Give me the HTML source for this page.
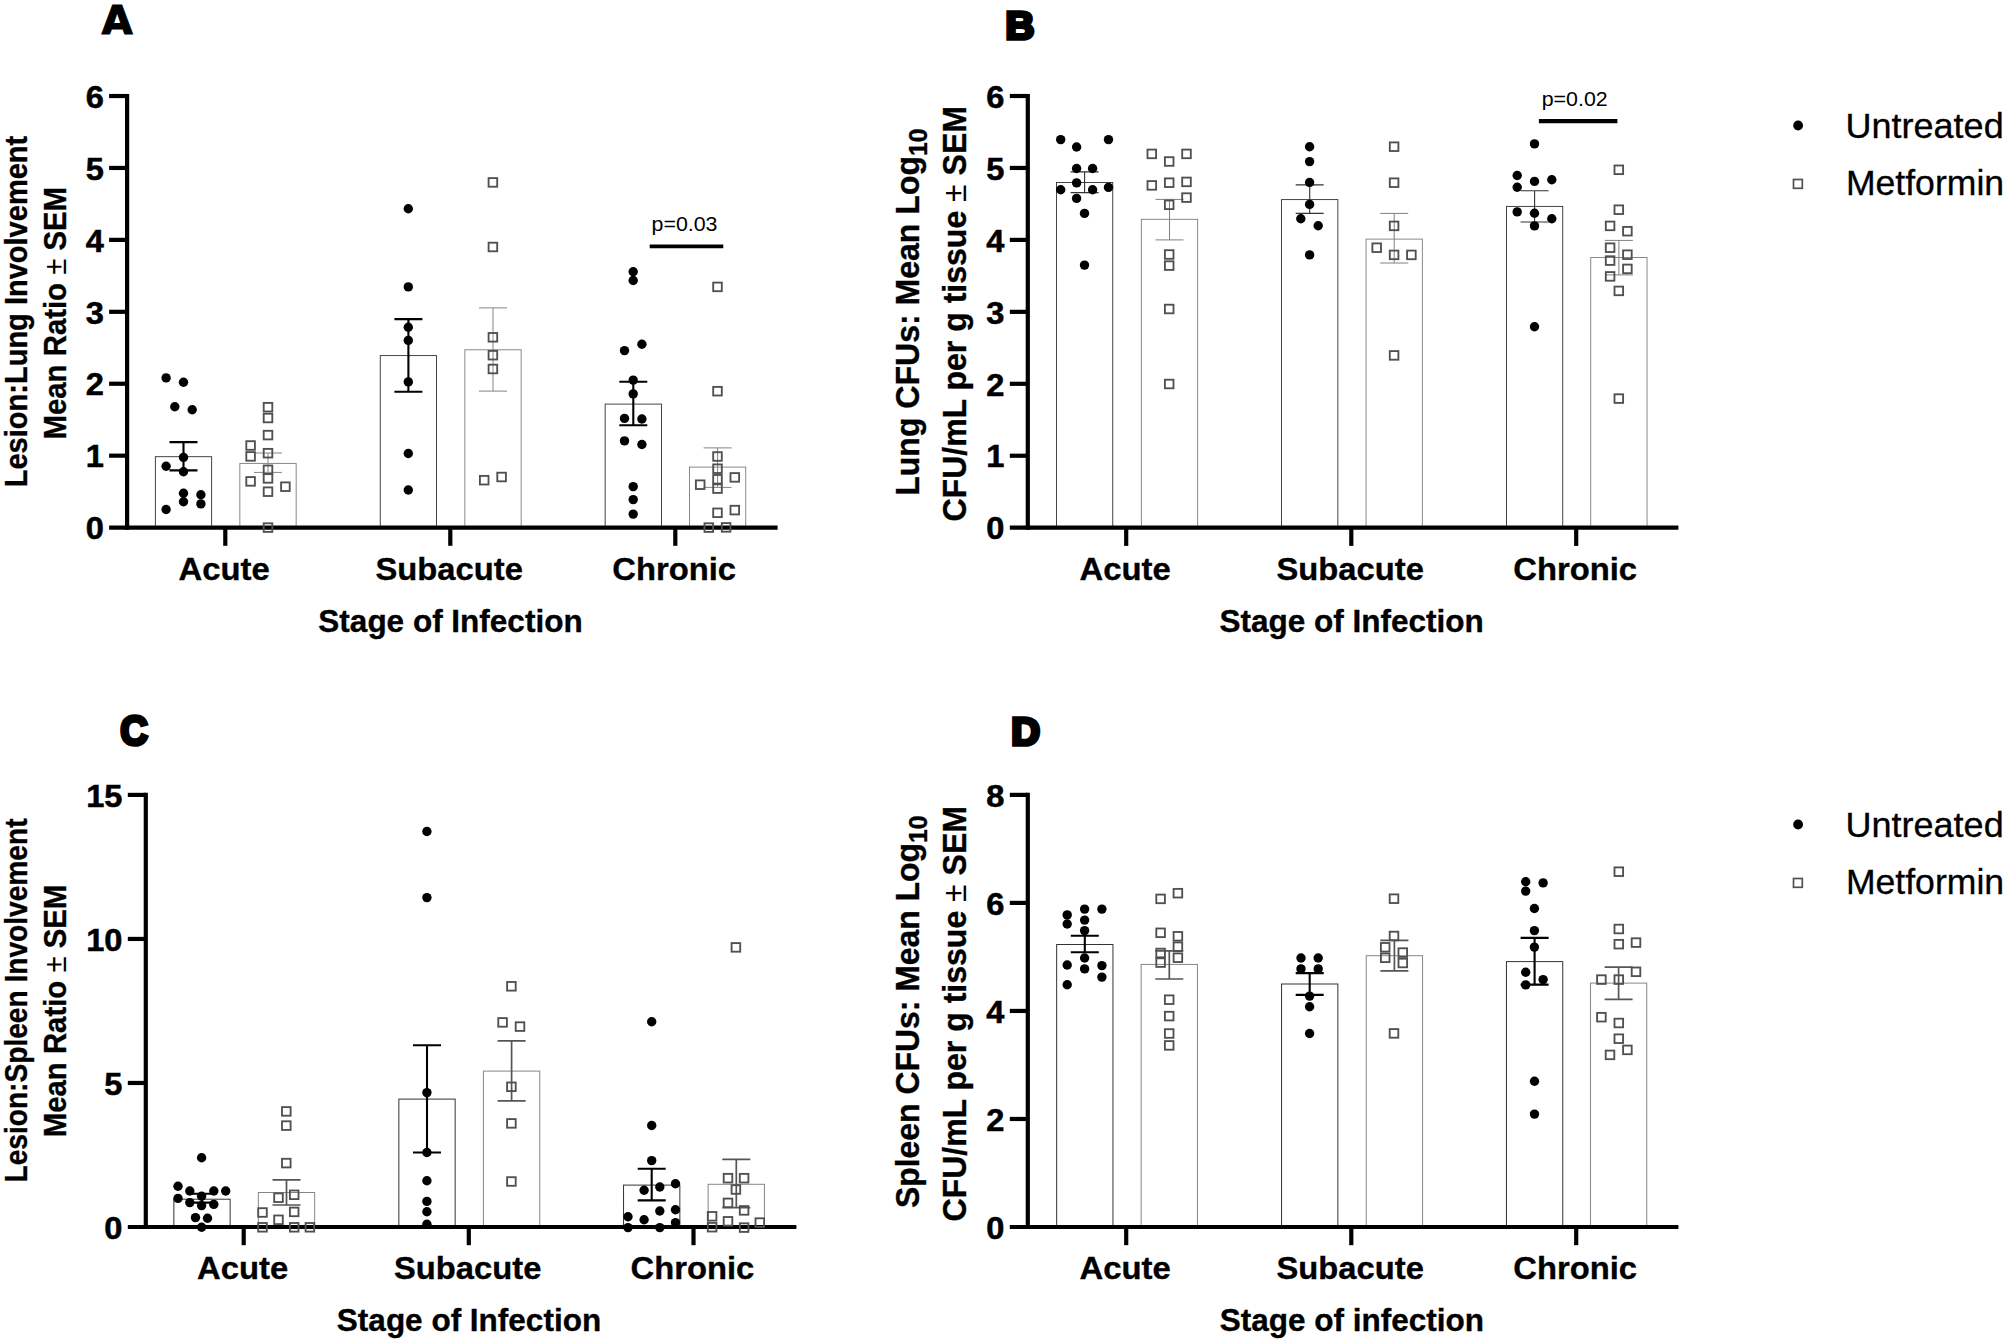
<!DOCTYPE html>
<html lang="en"><head><meta charset="utf-8"><title>Metformin figure</title>
<style>html,body{margin:0;padding:0;background:#fff}svg{display:block}text{font-family:"Liberation Sans",Arial,sans-serif;fill:#000}text[font-weight=bold]{stroke:#000;stroke-width:.35px}text.tk{stroke-width:.55px}text.lg{stroke:#000;stroke-width:.3px}.pl{font-family:"Liberation Sans",Arial,sans-serif;font-weight:bold;stroke:#000;stroke-width:3.65px;stroke-linejoin:miter}.pa{font-family:"DejaVu Sans","Liberation Sans",sans-serif;font-weight:bold;stroke:#000;stroke-width:1.2px;stroke-linejoin:miter}</style>
</head><body>
<svg width="2007" height="1344" viewBox="0 0 2007 1344">
<rect width="2007" height="1344" fill="#fff"/>
<g>
<rect x="155.35" y="456.7" width="56.3" height="70.9" fill="none" stroke="#303030" stroke-width="0.9"/>
<rect x="239.85" y="463.4" width="56.3" height="64.2" fill="none" stroke="#7c7c7c" stroke-width="0.9"/>
<rect x="380.25" y="355.6" width="56.3" height="172" fill="none" stroke="#303030" stroke-width="0.9"/>
<rect x="464.85" y="349.8" width="56.3" height="177.8" fill="none" stroke="#7c7c7c" stroke-width="0.9"/>
<rect x="605.15" y="404.1" width="56.3" height="123.5" fill="none" stroke="#303030" stroke-width="0.9"/>
<rect x="689.45" y="467.1" width="56.3" height="60.5" fill="none" stroke="#7c7c7c" stroke-width="0.9"/>
<line x1="127.1" y1="93.9" x2="127.1" y2="529.7" stroke="#000" stroke-width="4.2" stroke-linecap="butt"/>
<line x1="109.1" y1="527.6" x2="777.6" y2="527.6" stroke="#000" stroke-width="4.2" stroke-linecap="butt"/>
<line x1="109.1" y1="455.67" x2="127.1" y2="455.67" stroke="#000" stroke-width="4.2" stroke-linecap="butt"/>
<line x1="109.1" y1="383.74" x2="127.1" y2="383.74" stroke="#000" stroke-width="4.2" stroke-linecap="butt"/>
<line x1="109.1" y1="311.81" x2="127.1" y2="311.81" stroke="#000" stroke-width="4.2" stroke-linecap="butt"/>
<line x1="109.1" y1="239.88" x2="127.1" y2="239.88" stroke="#000" stroke-width="4.2" stroke-linecap="butt"/>
<line x1="109.1" y1="167.95" x2="127.1" y2="167.95" stroke="#000" stroke-width="4.2" stroke-linecap="butt"/>
<line x1="109.1" y1="96.02" x2="127.1" y2="96.02" stroke="#000" stroke-width="4.2" stroke-linecap="butt"/>
<line x1="225.3" y1="527.6" x2="225.3" y2="545.8" stroke="#000" stroke-width="4.2" stroke-linecap="butt"/>
<line x1="450.3" y1="527.6" x2="450.3" y2="545.8" stroke="#000" stroke-width="4.2" stroke-linecap="butt"/>
<line x1="675.3" y1="527.6" x2="675.3" y2="545.8" stroke="#000" stroke-width="4.2" stroke-linecap="butt"/>
<text x="103.8" y="539.3" font-size="31.5" font-weight="bold" text-anchor="end" textLength="18.13" lengthAdjust="spacingAndGlyphs" class="tk">0</text>
<text x="103.8" y="467.37" font-size="31.5" font-weight="bold" text-anchor="end" textLength="18.13" lengthAdjust="spacingAndGlyphs" class="tk">1</text>
<text x="103.8" y="395.44" font-size="31.5" font-weight="bold" text-anchor="end" textLength="18.13" lengthAdjust="spacingAndGlyphs" class="tk">2</text>
<text x="103.8" y="323.51" font-size="31.5" font-weight="bold" text-anchor="end" textLength="18.13" lengthAdjust="spacingAndGlyphs" class="tk">3</text>
<text x="103.8" y="251.58" font-size="31.5" font-weight="bold" text-anchor="end" textLength="18.13" lengthAdjust="spacingAndGlyphs" class="tk">4</text>
<text x="103.8" y="179.65" font-size="31.5" font-weight="bold" text-anchor="end" textLength="18.13" lengthAdjust="spacingAndGlyphs" class="tk">5</text>
<text x="103.8" y="107.72" font-size="31.5" font-weight="bold" text-anchor="end" textLength="18.13" lengthAdjust="spacingAndGlyphs" class="tk">6</text>
<path d="M169.5 442.1H197.5M169.5 470.4H197.5M183.5 442.1V470.4" fill="none" stroke="#000" stroke-width="2.1"/>
<path d="M254 453H282M254 472.4H282M268 453V472.4" fill="none" stroke="#848484" stroke-width="1"/>
<path d="M394.4 319.1H422.4M394.4 391.7H422.4M408.4 319.1V391.7" fill="none" stroke="#000" stroke-width="2.1"/>
<path d="M479 307.9H507M479 391.1H507M493 307.9V391.1" fill="none" stroke="#848484" stroke-width="1"/>
<path d="M619.3 381.7H647.3M619.3 425.2H647.3M633.3 381.7V425.2" fill="none" stroke="#000" stroke-width="2.1"/>
<path d="M703.6 447.9H731.6M703.6 487.4H731.6M717.6 447.9V487.4" fill="none" stroke="#848484" stroke-width="1"/>
<g fill="#000">
<circle cx="166.1" cy="377.9" r="4.7"/>
<circle cx="183.5" cy="382.3" r="4.7"/>
<circle cx="174.8" cy="406.8" r="4.7"/>
<circle cx="192.2" cy="409.8" r="4.7"/>
<circle cx="183.5" cy="457.4" r="4.7"/>
<circle cx="166.1" cy="466.2" r="4.7"/>
<circle cx="183.5" cy="471.8" r="4.7"/>
<circle cx="183.5" cy="493.3" r="4.7"/>
<circle cx="200.9" cy="494.7" r="4.7"/>
<circle cx="183.5" cy="501.7" r="4.7"/>
<circle cx="200.9" cy="503.9" r="4.7"/>
<circle cx="166.1" cy="509.5" r="4.7"/>
<circle cx="408.3" cy="208.8" r="4.7"/>
<circle cx="408.3" cy="286.9" r="4.7"/>
<circle cx="408.3" cy="327.3" r="4.7"/>
<circle cx="408.3" cy="340.4" r="4.7"/>
<circle cx="408.3" cy="381.9" r="4.7"/>
<circle cx="408.3" cy="453.5" r="4.7"/>
<circle cx="408.3" cy="490" r="4.7"/>
<circle cx="633.2" cy="271.8" r="4.7"/>
<circle cx="633.2" cy="280.5" r="4.7"/>
<circle cx="624.5" cy="350.6" r="4.7"/>
<circle cx="641.9" cy="344.2" r="4.7"/>
<circle cx="633.2" cy="380.1" r="4.7"/>
<circle cx="633.2" cy="393.9" r="4.7"/>
<circle cx="624.5" cy="418.4" r="4.7"/>
<circle cx="641.9" cy="419" r="4.7"/>
<circle cx="624.5" cy="440.9" r="4.7"/>
<circle cx="641.9" cy="444.5" r="4.7"/>
<circle cx="633.2" cy="486.6" r="4.7"/>
<circle cx="633.2" cy="499.6" r="4.7"/>
<circle cx="633.2" cy="514.1" r="4.7"/>
</g>
<g fill="none" stroke="#505050" stroke-width="1.85">
<rect x="263.7" y="402.9" width="8.6" height="8.6"/>
<rect x="263.7" y="413.7" width="8.6" height="8.6"/>
<rect x="263.7" y="430.8" width="8.6" height="8.6"/>
<rect x="246.3" y="441.2" width="8.6" height="8.6"/>
<rect x="263.7" y="448.9" width="8.6" height="8.6"/>
<rect x="246.3" y="452.1" width="8.6" height="8.6"/>
<rect x="263.7" y="465.5" width="8.6" height="8.6"/>
<rect x="263.7" y="474.1" width="8.6" height="8.6"/>
<rect x="246.3" y="477.1" width="8.6" height="8.6"/>
<rect x="281.1" y="482.4" width="8.6" height="8.6"/>
<rect x="263.7" y="487.4" width="8.6" height="8.6"/>
<rect x="263.7" y="523.3" width="8.6" height="8.6"/>
<rect x="488.6" y="178.1" width="8.6" height="8.6"/>
<rect x="488.6" y="242.7" width="8.6" height="8.6"/>
<rect x="488.6" y="333" width="8.6" height="8.6"/>
<rect x="488.6" y="350.9" width="8.6" height="8.6"/>
<rect x="488.6" y="364.7" width="8.6" height="8.6"/>
<rect x="479.9" y="475.9" width="8.6" height="8.6"/>
<rect x="497.3" y="472.7" width="8.6" height="8.6"/>
<rect x="713.2" y="282.6" width="8.6" height="8.6"/>
<rect x="713.2" y="386.9" width="8.6" height="8.6"/>
<rect x="713.2" y="452.2" width="8.6" height="8.6"/>
<rect x="713.2" y="464.4" width="8.6" height="8.6"/>
<rect x="713.2" y="475" width="8.6" height="8.6"/>
<rect x="730.5" y="473.1" width="8.6" height="8.6"/>
<rect x="695.9" y="480.4" width="8.6" height="8.6"/>
<rect x="713.2" y="484.3" width="8.6" height="8.6"/>
<rect x="713.2" y="508.5" width="8.6" height="8.6"/>
<rect x="730.5" y="505.8" width="8.6" height="8.6"/>
<rect x="704.5" y="523.3" width="8.6" height="8.6"/>
<rect x="721.8" y="523.1" width="8.6" height="8.6"/>
</g>
</g>
<g>
<rect x="1056.45" y="182.5" width="56.3" height="345.2" fill="none" stroke="#303030" stroke-width="0.9"/>
<rect x="1141.35" y="219.3" width="56.3" height="308.4" fill="none" stroke="#7c7c7c" stroke-width="0.9"/>
<rect x="1281.55" y="199.6" width="56.3" height="328.1" fill="none" stroke="#303030" stroke-width="0.9"/>
<rect x="1366.05" y="239.1" width="56.3" height="288.6" fill="none" stroke="#7c7c7c" stroke-width="0.9"/>
<rect x="1506.45" y="206.4" width="56.3" height="321.3" fill="none" stroke="#303030" stroke-width="0.9"/>
<rect x="1590.75" y="257.5" width="56.3" height="270.2" fill="none" stroke="#7c7c7c" stroke-width="0.9"/>
<line x1="1027.8" y1="93.9" x2="1027.8" y2="529.8" stroke="#000" stroke-width="4.2" stroke-linecap="butt"/>
<line x1="1009.8" y1="527.7" x2="1678.4" y2="527.7" stroke="#000" stroke-width="4.2" stroke-linecap="butt"/>
<line x1="1009.8" y1="455.75" x2="1027.8" y2="455.75" stroke="#000" stroke-width="4.2" stroke-linecap="butt"/>
<line x1="1009.8" y1="383.8" x2="1027.8" y2="383.8" stroke="#000" stroke-width="4.2" stroke-linecap="butt"/>
<line x1="1009.8" y1="311.85" x2="1027.8" y2="311.85" stroke="#000" stroke-width="4.2" stroke-linecap="butt"/>
<line x1="1009.8" y1="239.9" x2="1027.8" y2="239.9" stroke="#000" stroke-width="4.2" stroke-linecap="butt"/>
<line x1="1009.8" y1="167.95" x2="1027.8" y2="167.95" stroke="#000" stroke-width="4.2" stroke-linecap="butt"/>
<line x1="1009.8" y1="96" x2="1027.8" y2="96" stroke="#000" stroke-width="4.2" stroke-linecap="butt"/>
<line x1="1126.2" y1="527.7" x2="1126.2" y2="545.9" stroke="#000" stroke-width="4.2" stroke-linecap="butt"/>
<line x1="1351.3" y1="527.7" x2="1351.3" y2="545.9" stroke="#000" stroke-width="4.2" stroke-linecap="butt"/>
<line x1="1576.2" y1="527.7" x2="1576.2" y2="545.9" stroke="#000" stroke-width="4.2" stroke-linecap="butt"/>
<text x="1004.5" y="539.4" font-size="31.5" font-weight="bold" text-anchor="end" textLength="18.13" lengthAdjust="spacingAndGlyphs" class="tk">0</text>
<text x="1004.5" y="467.45" font-size="31.5" font-weight="bold" text-anchor="end" textLength="18.13" lengthAdjust="spacingAndGlyphs" class="tk">1</text>
<text x="1004.5" y="395.5" font-size="31.5" font-weight="bold" text-anchor="end" textLength="18.13" lengthAdjust="spacingAndGlyphs" class="tk">2</text>
<text x="1004.5" y="323.55" font-size="31.5" font-weight="bold" text-anchor="end" textLength="18.13" lengthAdjust="spacingAndGlyphs" class="tk">3</text>
<text x="1004.5" y="251.6" font-size="31.5" font-weight="bold" text-anchor="end" textLength="18.13" lengthAdjust="spacingAndGlyphs" class="tk">4</text>
<text x="1004.5" y="179.65" font-size="31.5" font-weight="bold" text-anchor="end" textLength="18.13" lengthAdjust="spacingAndGlyphs" class="tk">5</text>
<text x="1004.5" y="107.7" font-size="31.5" font-weight="bold" text-anchor="end" textLength="18.13" lengthAdjust="spacingAndGlyphs" class="tk">6</text>
<path d="M1070.6 171.9H1098.6M1070.6 192.6H1098.6M1084.6 171.9V192.6" fill="none" stroke="#333" stroke-width="1.1"/>
<path d="M1155.5 199.4H1183.5M1155.5 239.9H1183.5M1169.5 199.4V239.9" fill="none" stroke="#808080" stroke-width="1"/>
<path d="M1295.7 184.9H1323.7M1295.7 213.4H1323.7M1309.7 184.9V213.4" fill="none" stroke="#333" stroke-width="1.1"/>
<path d="M1380.2 213.4H1408.2M1380.2 263H1408.2M1394.2 213.4V263" fill="none" stroke="#808080" stroke-width="1"/>
<path d="M1520.6 190.8H1548.6M1520.6 222H1548.6M1534.6 190.8V222" fill="none" stroke="#333" stroke-width="1.1"/>
<path d="M1604.9 240.4H1632.9M1604.9 274.9H1632.9M1618.9 240.4V274.9" fill="none" stroke="#808080" stroke-width="1"/>
<g fill="#000">
<circle cx="1060.7" cy="139.6" r="4.7"/>
<circle cx="1108.5" cy="139.6" r="4.7"/>
<circle cx="1076.6" cy="147" r="4.7"/>
<circle cx="1076.6" cy="168.5" r="4.7"/>
<circle cx="1092.6" cy="168.5" r="4.7"/>
<circle cx="1076.6" cy="182.9" r="4.7"/>
<circle cx="1060.7" cy="189.8" r="4.7"/>
<circle cx="1092.6" cy="189.8" r="4.7"/>
<circle cx="1108.5" cy="187.4" r="4.7"/>
<circle cx="1076.6" cy="198.4" r="4.7"/>
<circle cx="1084.5" cy="213.4" r="4.7"/>
<circle cx="1084.5" cy="265.1" r="4.7"/>
<circle cx="1309.6" cy="146.7" r="4.7"/>
<circle cx="1309.6" cy="161.6" r="4.7"/>
<circle cx="1309.6" cy="182.5" r="4.7"/>
<circle cx="1309.6" cy="204.4" r="4.7"/>
<circle cx="1300.8" cy="218.7" r="4.7"/>
<circle cx="1318.2" cy="225.7" r="4.7"/>
<circle cx="1309.6" cy="254.9" r="4.7"/>
<circle cx="1534.5" cy="143.9" r="4.7"/>
<circle cx="1517.2" cy="175.5" r="4.7"/>
<circle cx="1534.5" cy="181.4" r="4.7"/>
<circle cx="1551.8" cy="179.8" r="4.7"/>
<circle cx="1517.2" cy="187.3" r="4.7"/>
<circle cx="1517.2" cy="211.9" r="4.7"/>
<circle cx="1534.5" cy="213.2" r="4.7"/>
<circle cx="1551.8" cy="218.7" r="4.7"/>
<circle cx="1534.5" cy="225.9" r="4.7"/>
<circle cx="1534.5" cy="326.7" r="4.7"/>
</g>
<g fill="none" stroke="#505050" stroke-width="1.85">
<rect x="1147.5" y="149.6" width="8.6" height="8.6"/>
<rect x="1182.2" y="149.6" width="8.6" height="8.6"/>
<rect x="1164.9" y="157.2" width="8.6" height="8.6"/>
<rect x="1147.5" y="181.1" width="8.6" height="8.6"/>
<rect x="1164.9" y="178.4" width="8.6" height="8.6"/>
<rect x="1182.2" y="177.6" width="8.6" height="8.6"/>
<rect x="1182.2" y="193.3" width="8.6" height="8.6"/>
<rect x="1164.9" y="200.5" width="8.6" height="8.6"/>
<rect x="1164.9" y="250.2" width="8.6" height="8.6"/>
<rect x="1164.9" y="261.3" width="8.6" height="8.6"/>
<rect x="1164.9" y="304.7" width="8.6" height="8.6"/>
<rect x="1164.9" y="379.7" width="8.6" height="8.6"/>
<rect x="1389.8" y="142.4" width="8.6" height="8.6"/>
<rect x="1389.8" y="178.4" width="8.6" height="8.6"/>
<rect x="1389.8" y="221.6" width="8.6" height="8.6"/>
<rect x="1372.4" y="243.4" width="8.6" height="8.6"/>
<rect x="1389.8" y="250.6" width="8.6" height="8.6"/>
<rect x="1407.1" y="250.6" width="8.6" height="8.6"/>
<rect x="1389.8" y="351.1" width="8.6" height="8.6"/>
<rect x="1614.5" y="165.5" width="8.6" height="8.6"/>
<rect x="1614.5" y="205.4" width="8.6" height="8.6"/>
<rect x="1605.8" y="221.6" width="8.6" height="8.6"/>
<rect x="1623.1" y="226.9" width="8.6" height="8.6"/>
<rect x="1605.8" y="243.4" width="8.6" height="8.6"/>
<rect x="1623.1" y="250.4" width="8.6" height="8.6"/>
<rect x="1605.8" y="256.3" width="8.6" height="8.6"/>
<rect x="1623.1" y="264.6" width="8.6" height="8.6"/>
<rect x="1605.8" y="272.1" width="8.6" height="8.6"/>
<rect x="1614.5" y="286.6" width="8.6" height="8.6"/>
<rect x="1614.5" y="394.3" width="8.6" height="8.6"/>
</g>
</g>
<g>
<rect x="173.85" y="1199.2" width="56.3" height="27.8" fill="none" stroke="#333" stroke-width="1"/>
<rect x="258.35" y="1192.5" width="56.3" height="34.5" fill="none" stroke="#868686" stroke-width="1"/>
<rect x="398.85" y="1099.1" width="56.3" height="127.9" fill="none" stroke="#333" stroke-width="1"/>
<rect x="483.45" y="1071.1" width="56.3" height="155.9" fill="none" stroke="#868686" stroke-width="1"/>
<rect x="623.55" y="1185.1" width="56.3" height="41.9" fill="none" stroke="#333" stroke-width="1"/>
<rect x="708.15" y="1184.3" width="56.3" height="42.7" fill="none" stroke="#868686" stroke-width="1"/>
<line x1="145.8" y1="792.8" x2="145.8" y2="1229.1" stroke="#000" stroke-width="4.2" stroke-linecap="butt"/>
<line x1="127.8" y1="1227" x2="796.4" y2="1227" stroke="#000" stroke-width="4.2" stroke-linecap="butt"/>
<line x1="127.8" y1="1082.97" x2="145.8" y2="1082.97" stroke="#000" stroke-width="4.2" stroke-linecap="butt"/>
<line x1="127.8" y1="938.94" x2="145.8" y2="938.94" stroke="#000" stroke-width="4.2" stroke-linecap="butt"/>
<line x1="127.8" y1="794.91" x2="145.8" y2="794.91" stroke="#000" stroke-width="4.2" stroke-linecap="butt"/>
<line x1="243.7" y1="1227" x2="243.7" y2="1245.2" stroke="#000" stroke-width="4.2" stroke-linecap="butt"/>
<line x1="468.8" y1="1227" x2="468.8" y2="1245.2" stroke="#000" stroke-width="4.2" stroke-linecap="butt"/>
<line x1="693.5" y1="1227" x2="693.5" y2="1245.2" stroke="#000" stroke-width="4.2" stroke-linecap="butt"/>
<text x="122.5" y="1238.7" font-size="31.5" font-weight="bold" text-anchor="end" textLength="18.13" lengthAdjust="spacingAndGlyphs" class="tk">0</text>
<text x="122.5" y="1094.67" font-size="31.5" font-weight="bold" text-anchor="end" textLength="18.13" lengthAdjust="spacingAndGlyphs" class="tk">5</text>
<text x="122.5" y="950.64" font-size="31.5" font-weight="bold" text-anchor="end" textLength="36.25" lengthAdjust="spacingAndGlyphs" class="tk">10</text>
<text x="122.5" y="806.61" font-size="31.5" font-weight="bold" text-anchor="end" textLength="36.25" lengthAdjust="spacingAndGlyphs" class="tk">15</text>
<path d="M188 1193.7H216M188 1202.6H216M202 1193.7V1202.6" fill="none" stroke="#000" stroke-width="2.1"/>
<path d="M272.5 1179.9H300.5M272.5 1205H300.5M286.5 1179.9V1205" fill="none" stroke="#555" stroke-width="1.7"/>
<path d="M413 1045.3H441M413 1152.5H441M427 1045.3V1152.5" fill="none" stroke="#000" stroke-width="2.1"/>
<path d="M497.6 1040.9H525.6M497.6 1100.8H525.6M511.6 1040.9V1100.8" fill="none" stroke="#555" stroke-width="1.7"/>
<path d="M637.7 1168.8H665.7M637.7 1200.4H665.7M651.7 1168.8V1200.4" fill="none" stroke="#000" stroke-width="2.1"/>
<path d="M722.3 1159.4H750.3M722.3 1207.7H750.3M736.3 1159.4V1207.7" fill="none" stroke="#555" stroke-width="1.7"/>
<g fill="#000">
<circle cx="201.6" cy="1157.8" r="4.7"/>
<circle cx="178" cy="1186.2" r="4.7"/>
<circle cx="189.8" cy="1191" r="4.7"/>
<circle cx="213.8" cy="1191" r="4.7"/>
<circle cx="225.7" cy="1191" r="4.7"/>
<circle cx="201.6" cy="1196.3" r="4.7"/>
<circle cx="178" cy="1198.4" r="4.7"/>
<circle cx="189.8" cy="1202.6" r="4.7"/>
<circle cx="213.8" cy="1204.4" r="4.7"/>
<circle cx="201.6" cy="1205.6" r="4.7"/>
<circle cx="195.5" cy="1217.6" r="4.7"/>
<circle cx="207.5" cy="1218.3" r="4.7"/>
<circle cx="201.6" cy="1227.3" r="4.7"/>
<circle cx="426.9" cy="831.5" r="4.7"/>
<circle cx="426.9" cy="897.6" r="4.7"/>
<circle cx="426.9" cy="1092.6" r="4.7"/>
<circle cx="426.9" cy="1152.5" r="4.7"/>
<circle cx="426.9" cy="1180.7" r="4.7"/>
<circle cx="426.9" cy="1201.4" r="4.7"/>
<circle cx="426.9" cy="1211.7" r="4.7"/>
<circle cx="426.9" cy="1224.2" r="4.7"/>
<circle cx="651.7" cy="1021.8" r="4.7"/>
<circle cx="651.7" cy="1125.5" r="4.7"/>
<circle cx="651.7" cy="1160.6" r="4.7"/>
<circle cx="675.5" cy="1183.8" r="4.7"/>
<circle cx="659.8" cy="1187" r="4.7"/>
<circle cx="644.1" cy="1190.3" r="4.7"/>
<circle cx="675.5" cy="1209.8" r="4.7"/>
<circle cx="659.8" cy="1211" r="4.7"/>
<circle cx="628" cy="1216.7" r="4.7"/>
<circle cx="644.1" cy="1219.8" r="4.7"/>
<circle cx="675.5" cy="1222.6" r="4.7"/>
<circle cx="628" cy="1227.6" r="4.7"/>
<circle cx="659.8" cy="1227.6" r="4.7"/>
</g>
<g fill="none" stroke="#505050" stroke-width="1.85">
<rect x="282" y="1107.1" width="8.6" height="8.6"/>
<rect x="282" y="1121.3" width="8.6" height="8.6"/>
<rect x="282" y="1158.8" width="8.6" height="8.6"/>
<rect x="289.9" y="1190.5" width="8.6" height="8.6"/>
<rect x="274.2" y="1193.4" width="8.6" height="8.6"/>
<rect x="258.2" y="1208.2" width="8.6" height="8.6"/>
<rect x="289.9" y="1207.6" width="8.6" height="8.6"/>
<rect x="274.2" y="1215.5" width="8.6" height="8.6"/>
<rect x="258.2" y="1223" width="8.6" height="8.6"/>
<rect x="289.9" y="1223" width="8.6" height="8.6"/>
<rect x="305.6" y="1223" width="8.6" height="8.6"/>
<rect x="507.1" y="982" width="8.6" height="8.6"/>
<rect x="498.3" y="1018.1" width="8.6" height="8.6"/>
<rect x="515.7" y="1022.3" width="8.6" height="8.6"/>
<rect x="507.1" y="1082.5" width="8.6" height="8.6"/>
<rect x="507.1" y="1119.1" width="8.6" height="8.6"/>
<rect x="507.1" y="1177.2" width="8.6" height="8.6"/>
<rect x="731.6" y="943.1" width="8.6" height="8.6"/>
<rect x="723.7" y="1173.9" width="8.6" height="8.6"/>
<rect x="739.8" y="1173.9" width="8.6" height="8.6"/>
<rect x="731.6" y="1185.2" width="8.6" height="8.6"/>
<rect x="723.7" y="1198.6" width="8.6" height="8.6"/>
<rect x="739.8" y="1206.1" width="8.6" height="8.6"/>
<rect x="707.8" y="1212" width="8.6" height="8.6"/>
<rect x="723.7" y="1217" width="8.6" height="8.6"/>
<rect x="755.5" y="1218.3" width="8.6" height="8.6"/>
<rect x="707.8" y="1222.9" width="8.6" height="8.6"/>
<rect x="739.8" y="1223.3" width="8.6" height="8.6"/>
</g>
</g>
<g>
<rect x="1056.65" y="944.5" width="56.3" height="282.5" fill="none" stroke="#333" stroke-width="1"/>
<rect x="1141.15" y="964.4" width="56.3" height="262.6" fill="none" stroke="#868686" stroke-width="1"/>
<rect x="1281.55" y="984" width="56.3" height="243" fill="none" stroke="#333" stroke-width="1"/>
<rect x="1366.25" y="955.7" width="56.3" height="271.3" fill="none" stroke="#868686" stroke-width="1"/>
<rect x="1506.45" y="961.6" width="56.3" height="265.4" fill="none" stroke="#333" stroke-width="1"/>
<rect x="1590.45" y="983.1" width="56.3" height="243.9" fill="none" stroke="#868686" stroke-width="1"/>
<line x1="1027.8" y1="792.8" x2="1027.8" y2="1229.1" stroke="#000" stroke-width="4.2" stroke-linecap="butt"/>
<line x1="1009.8" y1="1227" x2="1678.4" y2="1227" stroke="#000" stroke-width="4.2" stroke-linecap="butt"/>
<line x1="1009.8" y1="1118.97" x2="1027.8" y2="1118.97" stroke="#000" stroke-width="4.2" stroke-linecap="butt"/>
<line x1="1009.8" y1="1010.94" x2="1027.8" y2="1010.94" stroke="#000" stroke-width="4.2" stroke-linecap="butt"/>
<line x1="1009.8" y1="902.91" x2="1027.8" y2="902.91" stroke="#000" stroke-width="4.2" stroke-linecap="butt"/>
<line x1="1009.8" y1="794.88" x2="1027.8" y2="794.88" stroke="#000" stroke-width="4.2" stroke-linecap="butt"/>
<line x1="1126.2" y1="1227" x2="1126.2" y2="1245.2" stroke="#000" stroke-width="4.2" stroke-linecap="butt"/>
<line x1="1351.3" y1="1227" x2="1351.3" y2="1245.2" stroke="#000" stroke-width="4.2" stroke-linecap="butt"/>
<line x1="1576.2" y1="1227" x2="1576.2" y2="1245.2" stroke="#000" stroke-width="4.2" stroke-linecap="butt"/>
<text x="1004.5" y="1238.7" font-size="31.5" font-weight="bold" text-anchor="end" textLength="18.13" lengthAdjust="spacingAndGlyphs" class="tk">0</text>
<text x="1004.5" y="1130.67" font-size="31.5" font-weight="bold" text-anchor="end" textLength="18.13" lengthAdjust="spacingAndGlyphs" class="tk">2</text>
<text x="1004.5" y="1022.64" font-size="31.5" font-weight="bold" text-anchor="end" textLength="18.13" lengthAdjust="spacingAndGlyphs" class="tk">4</text>
<text x="1004.5" y="914.61" font-size="31.5" font-weight="bold" text-anchor="end" textLength="18.13" lengthAdjust="spacingAndGlyphs" class="tk">6</text>
<text x="1004.5" y="806.58" font-size="31.5" font-weight="bold" text-anchor="end" textLength="18.13" lengthAdjust="spacingAndGlyphs" class="tk">8</text>
<path d="M1070.8 935.8H1098.8M1070.8 952.3H1098.8M1084.8 935.8V952.3" fill="none" stroke="#000" stroke-width="2.1"/>
<path d="M1155.3 950.8H1183.3M1155.3 979H1183.3M1169.3 950.8V979" fill="none" stroke="#555" stroke-width="1.7"/>
<path d="M1295.7 973.1H1323.7M1295.7 994.9H1323.7M1309.7 973.1V994.9" fill="none" stroke="#000" stroke-width="2.1"/>
<path d="M1380.4 940.4H1408.4M1380.4 970.9H1408.4M1394.4 940.4V970.9" fill="none" stroke="#555" stroke-width="1.7"/>
<path d="M1520.6 937.9H1548.6M1520.6 984.6H1548.6M1534.6 937.9V984.6" fill="none" stroke="#000" stroke-width="2.1"/>
<path d="M1604.6 967.2H1632.6M1604.6 999.3H1632.6M1618.6 967.2V999.3" fill="none" stroke="#555" stroke-width="1.7"/>
<g fill="#000">
<circle cx="1084.6" cy="909.1" r="4.7"/>
<circle cx="1101.9" cy="909.1" r="4.7"/>
<circle cx="1067.2" cy="914.9" r="4.7"/>
<circle cx="1084.6" cy="920.1" r="4.7"/>
<circle cx="1067.2" cy="924" r="4.7"/>
<circle cx="1084.6" cy="930.6" r="4.7"/>
<circle cx="1084.6" cy="958" r="4.7"/>
<circle cx="1067.2" cy="965" r="4.7"/>
<circle cx="1101.9" cy="965.6" r="4.7"/>
<circle cx="1084.6" cy="968.9" r="4.7"/>
<circle cx="1101.9" cy="977.1" r="4.7"/>
<circle cx="1067.2" cy="984.7" r="4.7"/>
<circle cx="1301" cy="958" r="4.7"/>
<circle cx="1318.2" cy="958" r="4.7"/>
<circle cx="1301" cy="968.9" r="4.7"/>
<circle cx="1318.2" cy="968.9" r="4.7"/>
<circle cx="1309.6" cy="996.1" r="4.7"/>
<circle cx="1309.6" cy="1006.7" r="4.7"/>
<circle cx="1309.6" cy="1033.5" r="4.7"/>
<circle cx="1525.7" cy="881.8" r="4.7"/>
<circle cx="1543.1" cy="882.9" r="4.7"/>
<circle cx="1525.7" cy="891.1" r="4.7"/>
<circle cx="1534.4" cy="908.5" r="4.7"/>
<circle cx="1534.4" cy="930.6" r="4.7"/>
<circle cx="1534.4" cy="947.1" r="4.7"/>
<circle cx="1525.7" cy="972.2" r="4.7"/>
<circle cx="1543.1" cy="979.6" r="4.7"/>
<circle cx="1525.7" cy="984.9" r="4.7"/>
<circle cx="1534.5" cy="1081.2" r="4.7"/>
<circle cx="1534.5" cy="1114.1" r="4.7"/>
</g>
<g fill="none" stroke="#505050" stroke-width="1.85">
<rect x="1173.6" y="888.9" width="8.6" height="8.6"/>
<rect x="1156.3" y="894.6" width="8.6" height="8.6"/>
<rect x="1156.3" y="928.5" width="8.6" height="8.6"/>
<rect x="1173.6" y="932" width="8.6" height="8.6"/>
<rect x="1173.6" y="942.4" width="8.6" height="8.6"/>
<rect x="1156.3" y="948.7" width="8.6" height="8.6"/>
<rect x="1173.6" y="953.4" width="8.6" height="8.6"/>
<rect x="1156.3" y="958.3" width="8.6" height="8.6"/>
<rect x="1164.9" y="995.4" width="8.6" height="8.6"/>
<rect x="1164.9" y="1011.8" width="8.6" height="8.6"/>
<rect x="1164.9" y="1029.2" width="8.6" height="8.6"/>
<rect x="1164.9" y="1041.1" width="8.6" height="8.6"/>
<rect x="1389.7" y="894.4" width="8.6" height="8.6"/>
<rect x="1389.7" y="931.7" width="8.6" height="8.6"/>
<rect x="1380.9" y="943" width="8.6" height="8.6"/>
<rect x="1398.5" y="948.3" width="8.6" height="8.6"/>
<rect x="1380.9" y="953.5" width="8.6" height="8.6"/>
<rect x="1398.5" y="958.7" width="8.6" height="8.6"/>
<rect x="1389.7" y="1029.1" width="8.6" height="8.6"/>
<rect x="1614.5" y="867.4" width="8.6" height="8.6"/>
<rect x="1614.5" y="924.7" width="8.6" height="8.6"/>
<rect x="1614.5" y="939.9" width="8.6" height="8.6"/>
<rect x="1631.7" y="938.3" width="8.6" height="8.6"/>
<rect x="1631.7" y="967.5" width="8.6" height="8.6"/>
<rect x="1597.1" y="975.3" width="8.6" height="8.6"/>
<rect x="1614.5" y="975.3" width="8.6" height="8.6"/>
<rect x="1597.1" y="1012.9" width="8.6" height="8.6"/>
<rect x="1614.5" y="1018.7" width="8.6" height="8.6"/>
<rect x="1614.5" y="1034.4" width="8.6" height="8.6"/>
<rect x="1623.1" y="1045.6" width="8.6" height="8.6"/>
<rect x="1605.7" y="1050.6" width="8.6" height="8.6"/>
</g>
</g>
<text x="224.2" y="579.8" font-size="32" font-weight="bold" text-anchor="middle" textLength="91.2" lengthAdjust="spacingAndGlyphs">Acute</text>
<text x="449.2" y="579.8" font-size="32" font-weight="bold" text-anchor="middle" textLength="147.3" lengthAdjust="spacingAndGlyphs">Subacute</text>
<text x="674.2" y="579.8" font-size="32" font-weight="bold" text-anchor="middle" textLength="123.7" lengthAdjust="spacingAndGlyphs">Chronic</text>
<text x="450.5" y="632" font-size="31.5" font-weight="bold" text-anchor="middle">Stage of Infection</text>
<text x="1125.1" y="579.8" font-size="32" font-weight="bold" text-anchor="middle" textLength="91.2" lengthAdjust="spacingAndGlyphs">Acute</text>
<text x="1350.2" y="579.8" font-size="32" font-weight="bold" text-anchor="middle" textLength="147.3" lengthAdjust="spacingAndGlyphs">Subacute</text>
<text x="1575.1" y="579.8" font-size="32" font-weight="bold" text-anchor="middle" textLength="123.7" lengthAdjust="spacingAndGlyphs">Chronic</text>
<text x="1351.6" y="632" font-size="31.5" font-weight="bold" text-anchor="middle">Stage of Infection</text>
<text x="242.6" y="1278.9" font-size="32" font-weight="bold" text-anchor="middle" textLength="91.2" lengthAdjust="spacingAndGlyphs">Acute</text>
<text x="467.7" y="1278.9" font-size="32" font-weight="bold" text-anchor="middle" textLength="147.3" lengthAdjust="spacingAndGlyphs">Subacute</text>
<text x="692.4" y="1278.9" font-size="32" font-weight="bold" text-anchor="middle" textLength="123.7" lengthAdjust="spacingAndGlyphs">Chronic</text>
<text x="469" y="1331" font-size="31.5" font-weight="bold" text-anchor="middle">Stage of Infection</text>
<text x="1125.1" y="1278.9" font-size="32" font-weight="bold" text-anchor="middle" textLength="91.2" lengthAdjust="spacingAndGlyphs">Acute</text>
<text x="1350.2" y="1278.9" font-size="32" font-weight="bold" text-anchor="middle" textLength="147.3" lengthAdjust="spacingAndGlyphs">Subacute</text>
<text x="1575.1" y="1278.9" font-size="32" font-weight="bold" text-anchor="middle" textLength="123.7" lengthAdjust="spacingAndGlyphs">Chronic</text>
<text x="1351.8" y="1331" font-size="31.5" font-weight="bold" text-anchor="middle">Stage of infection</text>
<text transform="translate(27.2 311.5) rotate(-90)" font-size="31.6" font-weight="bold" text-anchor="middle" textLength="351.5" lengthAdjust="spacingAndGlyphs">Lesion:Lung Involvement</text>
<text transform="translate(66.3 313.2) rotate(-90)" font-size="31.6" font-weight="bold" text-anchor="middle" textLength="252.5" lengthAdjust="spacingAndGlyphs">Mean Ratio <tspan font-weight="normal" stroke="none">±</tspan> SEM</text>
<text transform="translate(27.2 1000.5) rotate(-90)" font-size="31.6" font-weight="bold" text-anchor="middle" textLength="364" lengthAdjust="spacingAndGlyphs">Lesion:Spleen Involvement</text>
<text transform="translate(66.3 1011) rotate(-90)" font-size="31.6" font-weight="bold" text-anchor="middle" textLength="252.5" lengthAdjust="spacingAndGlyphs">Mean Ratio <tspan font-weight="normal" stroke="none">±</tspan> SEM</text>
<text transform="translate(919.3 495.8) rotate(-90)" font-size="32.3" font-weight="bold" text-anchor="start" textLength="367.4" lengthAdjust="spacingAndGlyphs">Lung CFUs: Mean Log<tspan font-size="25" dy="7.3">10</tspan></text>
<text transform="translate(966.4 313.8) rotate(-90)" font-size="32.3" font-weight="bold" text-anchor="middle" textLength="415.5" lengthAdjust="spacingAndGlyphs">CFU/mL per g tissue <tspan font-weight="normal" stroke="none">±</tspan> SEM</text>
<text transform="translate(919.3 1208) rotate(-90)" font-size="32.3" font-weight="bold" text-anchor="start" textLength="392.4" lengthAdjust="spacingAndGlyphs">Spleen CFUs: Mean Log<tspan font-size="25" dy="7.3">10</tspan></text>
<text transform="translate(966.4 1013.8) rotate(-90)" font-size="32.3" font-weight="bold" text-anchor="middle" textLength="415.5" lengthAdjust="spacingAndGlyphs">CFU/mL per g tissue <tspan font-weight="normal" stroke="none">±</tspan> SEM</text>
<text x="684.5" y="230.5" font-size="20.5" font-weight="normal" text-anchor="middle" textLength="66" lengthAdjust="spacingAndGlyphs">p=0.03</text>
<line x1="649.7" y1="246.3" x2="723.3" y2="246.3" stroke="#000" stroke-width="3.7" stroke-linecap="butt"/>
<text x="1574.7" y="105.9" font-size="20.5" font-weight="normal" text-anchor="middle" textLength="66" lengthAdjust="spacingAndGlyphs">p=0.02</text>
<line x1="1538.9" y1="121.2" x2="1617.4" y2="121.2" stroke="#000" stroke-width="4.2" stroke-linecap="butt"/>
<circle cx="1798.1" cy="125.5" r="4.9" fill="#000"/>
<rect x="1793.5" y="179.5" width="8.8" height="8.8" fill="none" stroke="#505050" stroke-width="1.7"/>
<text x="1845.5" y="137.5" font-size="35" font-weight="normal" text-anchor="start" textLength="158.2" lengthAdjust="spacingAndGlyphs" class="lg">Untreated</text>
<text x="1845.9" y="195" font-size="35" font-weight="normal" text-anchor="start" textLength="158.2" lengthAdjust="spacingAndGlyphs" class="lg">Metformin</text>
<circle cx="1798.1" cy="824.5" r="4.9" fill="#000"/>
<rect x="1793.5" y="878.5" width="8.8" height="8.8" fill="none" stroke="#505050" stroke-width="1.7"/>
<text x="1845.5" y="836.5" font-size="35" font-weight="normal" text-anchor="start" textLength="158.2" lengthAdjust="spacingAndGlyphs" class="lg">Untreated</text>
<text x="1845.9" y="894" font-size="35" font-weight="normal" text-anchor="start" textLength="158.2" lengthAdjust="spacingAndGlyphs" class="lg">Metformin</text>
<text class="pa" x="117.25" y="34.3" font-size="39.8" text-anchor="middle">A</text>
<text class="pl" x="1020.05" y="39.1" font-size="39" text-anchor="middle" textLength="28.9" lengthAdjust="spacingAndGlyphs">B</text>
<text class="pl" x="134.0" y="745.4" font-size="42.5" text-anchor="middle" textLength="27.6" lengthAdjust="spacingAndGlyphs">C</text>
<text class="pl" x="1025.7" y="744.9" font-size="39" text-anchor="middle" textLength="28.8" lengthAdjust="spacingAndGlyphs">D</text>
</svg>
</body></html>
